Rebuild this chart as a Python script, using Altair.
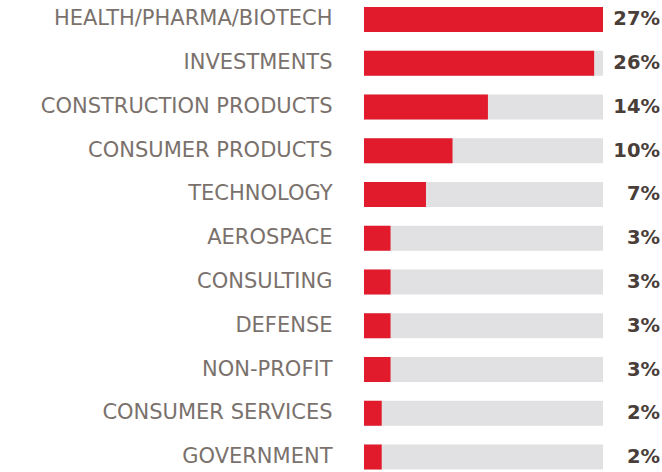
import altair as alt
import pandas as pd

categories = [
    "HEALTH/PHARMA/BIOTECH", "INVESTMENTS", "CONSTRUCTION PRODUCTS",
    "CONSUMER PRODUCTS", "TECHNOLOGY", "AEROSPACE", "CONSULTING",
    "DEFENSE", "NON-PROFIT", "CONSUMER SERVICES", "GOVERNMENT",
]
values = [27, 26, 14, 10, 7, 3, 3, 3, 3, 2, 2]
labels = [f"{v}%" for v in values]
scale_max = 27

df = pd.DataFrame({"category": categories, "value": values, "label": labels})

RED = "#e11b2c"
GREY = "#e1e1e3"
LABEL = "#7a716c"
DARK = "#4a3e39"

y = alt.Y(
    "category:N",
    sort=categories,
    title=None,
    scale=alt.Scale(range=[7, 469.5], paddingInner=0.4286, paddingOuter=0),
    axis=alt.Axis(
        domain=False, ticks=False, grid=False, labelPadding=32, labelFontSize=21,
        labelFont="DejaVu Sans", labelColor=LABEL, labelLimit=400,
    ),
)
xscale = alt.Scale(domain=[0, scale_max], nice=False, zero=True)

base = alt.Chart(df)

bg = base.mark_bar(color=GREY, strokeWidth=0).encode(
    x=alt.datum(scale_max, type="quantitative", scale=xscale, axis=None),
    y=y,
)
red = base.mark_bar(color=RED, strokeWidth=0).encode(
    x=alt.X("value:Q", scale=xscale, axis=None),
    y=y,
)
txt = base.mark_text(
    align="right", baseline="middle", dx=57, font="DejaVu Sans",
    fontWeight="bold", fontSize=19.5, color=DARK,
).encode(
    x=alt.datum(scale_max, type="quantitative", axis=None),
    y=y,
    text="label:N",
)

chart = (
    alt.layer(bg, red, txt)
    .properties(
        width=239, height=472,
        autosize=alt.AutoSizeParams(type="none"),
        padding={"left": 364, "right": 59, "top": 0, "bottom": 0},
        view=alt.ViewBackground(strokeWidth=0, strokeOpacity=0, stroke="white"),
    )
    .configure_view(strokeWidth=0, strokeOpacity=0, stroke="white")
    .configure_axis(grid=False, domain=False, ticks=False)
    .configure(background="white")
)

chart.save("out.html", embed_options={"renderer": "svg", "actions": False})
